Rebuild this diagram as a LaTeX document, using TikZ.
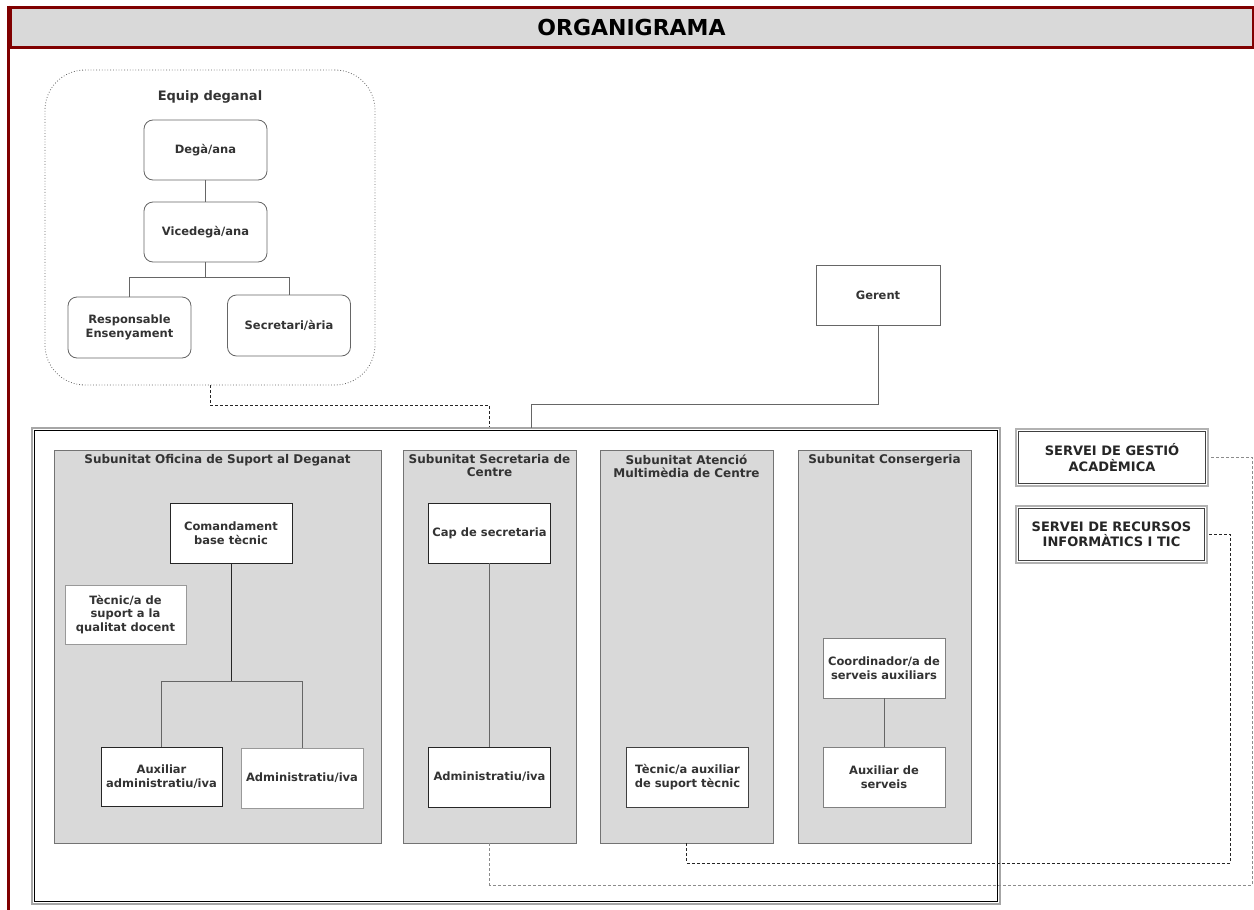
\documentclass[tikz,border=0pt]{standalone}
\usepackage{fontspec}
\setmainfont{DejaVu Sans}
\usetikzlibrary{positioning,calc}

\definecolor{titlered}{HTML}{800000}
\definecolor{unitgray}{HTML}{D9D9D9}

\tikzset{
  box/.style={draw=black!75,line width=0.8pt,fill=white,align=center,text=black!80,inner sep=1pt,
    font=\bfseries\fontsize{11.5}{13.5}\selectfont,minimum width=122pt,minimum height=60pt},
  rbox/.style={box,draw=black!60,rounded corners=9pt},
  subunit/.style={draw=black!55,line width=0.8pt,fill=unitgray,minimum width=173pt,minimum height=393pt},
  unittitle/.style={anchor=north,align=center,text=black!80,inner sep=2pt,
    font=\bfseries\fontsize{12}{13}\selectfont},
  servei/.style={draw=black!30,line width=1.5pt,fill=white,align=center,
    text=black!85,minimum width=190pt,minimum height=55pt,font=\bfseries\fontsize{13}{15.5}\selectfont},
  link/.style={draw=black!60,line width=0.8pt},
  dlink/.style={draw=black!85,line width=0.8pt,dash pattern=on 3pt off 2pt},
}

\begin{document}
\begin{tikzpicture}[x=1pt,y=-1pt]
\useasboundingbox (0,0) rectangle (1254,910);

% capcalera
\node[draw=titlered,line width=3pt,fill=unitgray,minimum width=1243pt,minimum height=40pt,
  font=\bfseries\fontsize{22}{24}\selectfont] (titol) at (631.5,27) {ORGANIGRAMA};
\coordinate (peu) at (11.5,910);
\draw[titlered,line width=3pt] (titol.north west) -- (titol.north west |- peu);

% equip deganal
\node[draw=black!60,line width=0.8pt,dotted,rounded corners=40pt,minimum width=330pt,minimum height=315pt] (equip) at (210,227.5) {};
\node[unittitle,anchor=center,font=\bfseries\fontsize{13}{14}\selectfont] (equiptitol) at (210,97) {Equip deganal};
\node[rbox,minimum width=123pt] (degana) at (205.5,150) {Degà/ana};
\node[rbox,minimum width=123pt] (vicedegana) at (205.5,232) {Vicedegà/ana};
\node[rbox,minimum width=123pt,minimum height=61pt] (responsable) at (129.5,327.5) {Responsable\\Ensenyament};
\node[rbox,minimum width=123pt,minimum height=61pt] (secretaria) at (289,325.5) {Secretari/ària};

\draw[link] (degana) -- (vicedegana);
\draw[link] (vicedegana.south) -- ++(0,15) coordinate (vj);
\draw[link] (vj) -| (responsable);
\draw[link] (vj) -| (secretaria);

% gerent
\node[box,draw=black!60,minimum width=124pt] (gerent) at (878,295) {Gerent};

% unitat
\node[draw=black!35,line width=1.2pt,minimum width=968pt,minimum height=476pt] (unitat) at (516,666) {};
\draw[black,line width=0.8pt] ([shift={(3,3)}]unitat.north west) rectangle ([shift={(-3,-3)}]unitat.south east);

\node[subunit,minimum width=327pt] (oficina) at (217.5,646.5) {};
\node[unittitle] (oficinatitol) at ([yshift=-3pt]oficina.north) {Subunitat Oficina de Suport al Deganat};
\node[subunit] (secret) at (489.5,646.5) {};
\node[unittitle] (secrettitol) at ([yshift=-3pt]secret.north) {Subunitat Secretaria de\\Centre};
\node[subunit] (atencio) at (686.5,646.5) {};
\node[unittitle] (atenciotitol) at ([yshift=-3pt]atencio.north) {Subunitat Atenció\\Multimèdia de Centre};
\node[subunit] (consergeria) at (884.5,646.5) {};
\node[unittitle] (consergeriatitol) at ([yshift=-3pt]consergeria.north) {Subunitat Consergeria};

% oficina de suport
\node[box,draw=black!85] (comandament) at (231,533) {Comandament\\base tècnic};
\node[box,draw=black!40,minimum width=121pt,minimum height=59pt] (qualitat) at (125.5,614.5) {Tècnic/a de\\suport a la\\qualitat docent};
\node[box,draw=black!85,minimum width=121pt,minimum height=59pt] (auxadmin) at (161.5,776.5) {Auxiliar\\administratiu/iva};
\node[box,draw=black!40] (admin) at (302,778) {Administratiu/iva};
\draw[black!85,line width=0.8pt] (comandament.south) -- ++(0,118) coordinate (cj);
\draw[link] (cj) -| (auxadmin);
\draw[link] (cj) -| (admin);

% secretaria
\node[box,draw=black!85] (capsec) at (489.5,533) {Cap de secretaria};
\node[box,draw=black!85] (adminsec) at (489.5,777) {Administratiu/iva};
\draw[link] (capsec) -- (adminsec);

% atencio multimedia
\node[box] (tecaux) at (687.5,777) {Tècnic/a auxiliar\\de suport tècnic};

% consergeria
\node[box,draw=black!50] (coord) at (884,668) {Coordinador/a de\\serveis auxiliars};
\node[box,draw=black!50] (auxserv) at (884,777) {Auxiliar de\\serveis};
\draw[link] (coord) -- (auxserv);

% serveis
\node[servei,minimum width=192pt,minimum height=57pt] (gestio) at (1112,457.5) {SERVEI DE GESTIÓ\\ACADÈMICA};
\draw[black!75,line width=0.8pt] ([shift={(3,3)}]gestio.north west) rectangle ([shift={(-3,-3)}]gestio.south east);
\node[servei,minimum width=191pt,minimum height=57pt] (recursos) at (1111.5,534.5) {SERVEI DE RECURSOS\\INFORMÀTICS I TIC};
\draw[black!75,line width=0.8pt] ([shift={(3,3)}]recursos.north west) rectangle ([shift={(-3,-3)}]recursos.south east);

% connexions
\coordinate (gerin) at (531,428);
\draw[link] (gerent.south) -- ++(0,79) -| (gerin);
\draw[dlink] (equip.south) -- ++(0,20) -| (unitat.north -| secret.north);
\coordinate (ticturn) at (1230,863);
\draw[dlink] (atencio.south) |- (ticturn) |- (recursos.east);
\coordinate (sgaturn) at (1252,885);
\draw[dlink,draw=black!45] (secret.south) |- (sgaturn) |- (gestio.east);

\end{tikzpicture}
\end{document}
